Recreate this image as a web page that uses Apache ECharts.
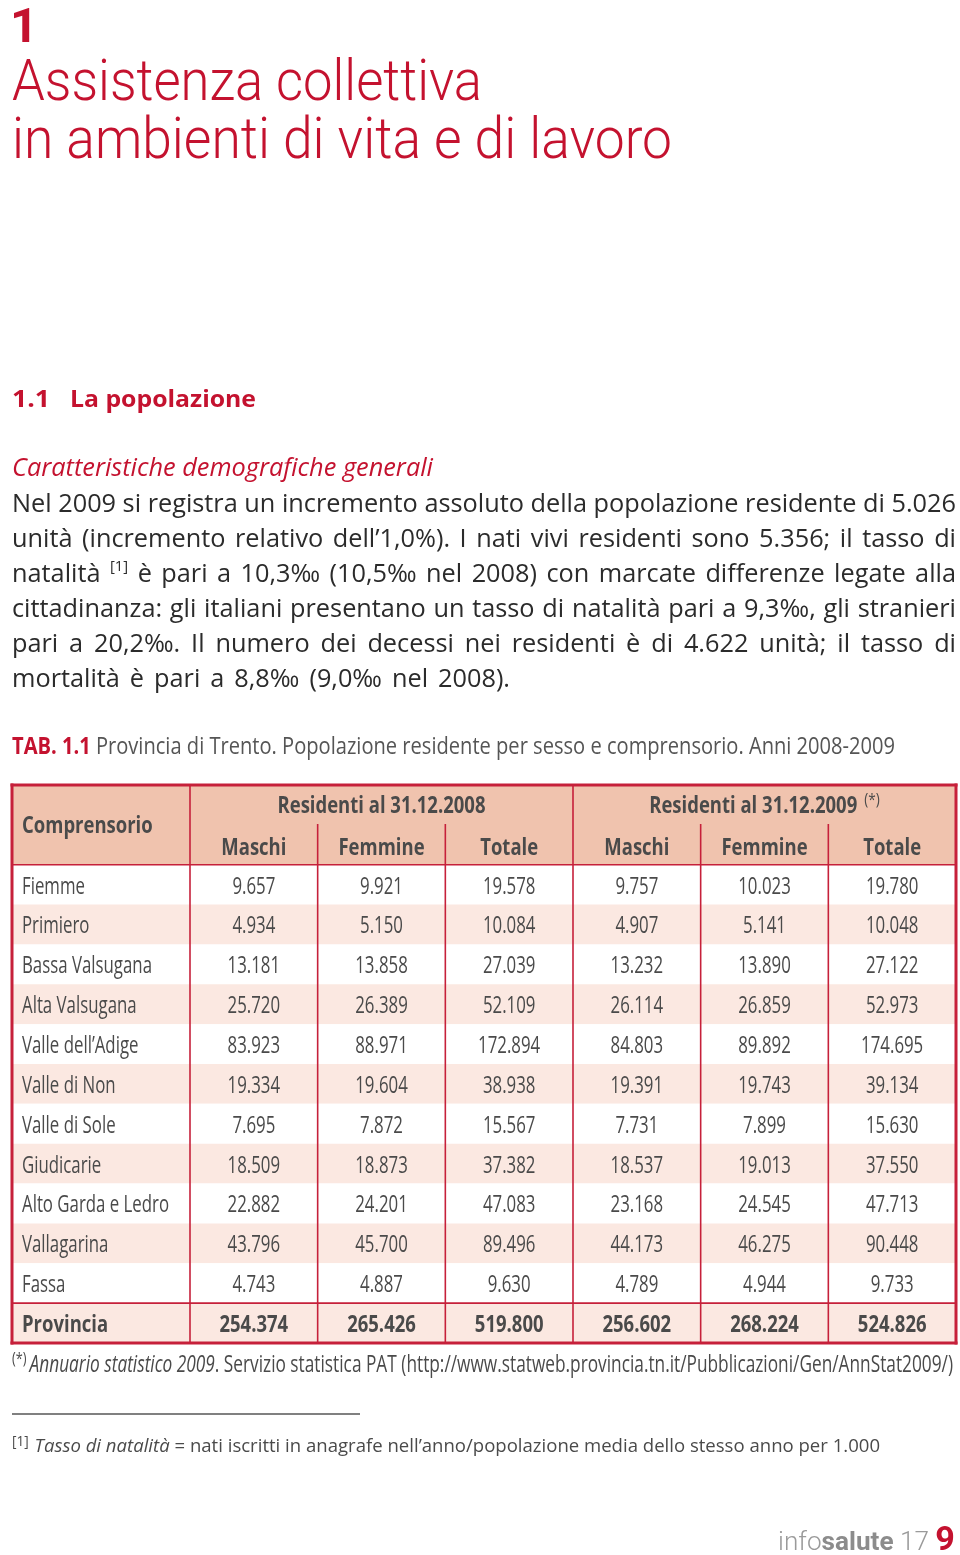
<!DOCTYPE html>
<html><head><meta charset="utf-8">
<script src="https://cdn.jsdelivr.net/npm/echarts@6/dist/echarts.min.js"></script>
<style>html,body{margin:0;padding:0;background:#fff}#c{width:960px;height:1555px}</style>
</head><body><div id="c"></div>
<script>
// ---------------- DATA ----------------
const comprensori = ['Fiemme','Primiero','Bassa Valsugana','Alta Valsugana','Valle dell\u2019Adige','Valle di Non','Valle di Sole','Giudicarie','Alto Garda e Ledro','Vallagarina','Fassa','Provincia'];
const maschi2008  = [9657, 4934, 13181, 25720, 83923, 19334, 7695, 18509, 22882, 43796, 4743, 254374];
const femmine2008 = [9921, 5150, 13858, 26389, 88971, 19604, 7872, 18873, 24201, 45700, 4887, 265426];
const totale2008  = [19578, 10084, 27039, 52109, 172894, 38938, 15567, 37382, 47083, 89496, 9630, 519800];
const maschi2009  = [9757, 4907, 13232, 26114, 84803, 19391, 7731, 18537, 23168, 44173, 4789, 256602];
const femmine2009 = [10023, 5141, 13890, 26859, 89892, 19743, 7899, 19013, 24545, 46275, 4944, 268224];
const totale2009  = [19780, 10048, 27122, 52973, 174695, 39134, 15630, 37550, 47713, 90448, 9733, 524826];
const firstHeader = 'Comprensorio';
const groupLabels = ['Residenti al 31.12.2008', 'Residenti al 31.12.2009'];
const groupSup = ['', '(*)'];
const subLabels = ['Maschi', 'Femmine', 'Totale'];

const bodyLines = [
  'Nel 2009 si registra un incremento assoluto della popolazione residente di 5.026',
  'unit\u00e0 (incremento relativo dell\u20191,0%). I nati vivi residenti sono 5.356; il tasso di',
  'natalit\u00e0 [1] \u00e8 pari a 10,3\u2030 (10,5\u2030 nel 2008) con marcate differenze legate alla',
  'cittadinanza: gli italiani presentano un tasso di natalit\u00e0 pari a 9,3\u2030, gli stranieri',
  'pari a 20,2\u2030. Il numero dei decessi nei residenti \u00e8 di 4.622 unit\u00e0; il tasso di',
  'mortalit\u00e0 \u00e8 pari a 8,8\u2030 (9,0\u2030 nel 2008).'
];

// ---------------- HELPERS ----------------
const RED = '#c4122f';
const BODY = '#2b2b2b';
const GRAY = '#4a4a4a';
const ctx = document.createElement('canvas').getContext('2d');
function tw(t, f) { ctx.font = f; return ctx.measureText(t).width; }
function F(size, weight, style, fam) { return (style || 'normal') + ' ' + (weight || 400) + ' ' + size + 'px ' + (fam || '"Open Sans"'); }
const fmt = n => String(n).replace(/\B(?=(\d{3})+(?!\d))/g, '.');

const els = [];
function txt(t, x, y, f, fill, sx, align) {
  els.push({ type: 'text', x: x, y: y, scaleX: sx || 1, z: 10,
    style: { text: t, font: f, fill: fill, align: align || 'left', verticalAlign: 'middle' } });
}
function runs(list, x0, x1, y) {
  const total = list.reduce((a, r) => a + tw(r.t, r.f) + (r.gap || 0), 0);
  const sx = x1 ? (x1 - x0) / total : 1;
  let x = x0;
  list.forEach(r => { txt(r.t, x, y + (r.dy || 0), r.f, r.fill, sx); x += (tw(r.t, r.f) + (r.gap || 0)) * sx; });
}
function fit(t, f, fill, x0, x1, y) { txt(t, x0, y, f, fill, (x1 - x0) / tw(t, f)); }

// ---------------- PAGE TEXT ----------------
txt('1', 10, 30, F(49, 700, 'normal', 'Roboto'), RED);
fit('Assistenza collettiva', F(57, 300, 'normal', 'Roboto'), RED, 12, 482, 86);
fit('in ambienti di vita e di lavoro', F(57, 300, 'normal', 'Roboto'), RED, 12, 672, 144);

fit('1.1', F(24, 700), RED, 12, 50, 400);
fit('La popolazione', F(24, 700), RED, 70, 256, 400);
fit('Caratteristiche demografiche generali', F(26, 400, 'italic'), RED, 12, 433, 469);

// justified body
const fB = F(25.5), fSup = F(15);
const tokW = t => (t === '[1]' ? tw(t, fSup) : tw(t, fB));
const lineNat = line => { const tk = line.split(' '); return tk.reduce((a, t) => a + tokW(t), 0) + (tk.length - 1) * tw(' ', fB); };
let sxB = Infinity;
bodyLines.slice(0, -1).forEach(l => { sxB = Math.min(sxB, 944 / lineNat(l)); });
bodyLines.forEach((line, li) => {
  const y = 505 + li * 35;
  const last = li === bodyLines.length - 1;
  const tokens = line.split(' ');
  const widths = tokens.map(t => tokW(t) * sxB);
  const sum = widths.reduce((a, b) => a + b, 0);
  const right = last ? 510 : 956;
  const gap = (right - 12 - sum) / (tokens.length - 1);
  let x = 12;
  tokens.forEach((t, i) => {
    if (t === '[1]') txt(t, x, y - 8, fSup, BODY, sxB); else txt(t, x, y, fB, BODY, sxB);
    x += widths[i] + gap;
  });
});

runs([
  { t: 'TAB. 1.1', f: F(24, 700), fill: RED },
  { t: ' Provincia di Trento. Popolazione residente per sesso e comprensorio. Anni 2008-2009', f: F(24), fill: '#555' }
], 12, 895, 747);

runs([
  { t: '(*)', f: F(17), fill: GRAY, dy: -6, gap: 4 },
  { t: 'Annuario statistico 2009', f: F(23, 400, 'italic'), fill: GRAY },
  { t: '. Servizio statistica PAT (http://www.statweb.provincia.tn.it/Pubblicazioni/Gen/AnnStat2009/)', f: F(23), fill: GRAY }
], 12, 953, 1365);

els.push({ type: 'line', shape: { x1: 12, y1: 1414, x2: 360, y2: 1414 }, style: { stroke: '#808080', lineWidth: 2 } });

runs([
  { t: '[1]', f: F(14), fill: GRAY, dy: -5, gap: 6 },
  { t: 'Tasso di natalit\u00e0', f: F(19, 400, 'italic'), fill: GRAY },
  { t: ' = nati iscritti in anagrafe nell\u2019anno/popolazione media dello stesso anno per 1.000', f: F(19), fill: GRAY }
], 12, 880, 1447);

runs([
  { t: 'info', f: F(26, 300, 'normal', 'Roboto'), fill: '#9a9a9a' },
  { t: 'salute', f: F(26, 700, 'normal', 'Roboto'), fill: '#8c8c8c' },
  { t: ' 17 ', f: F(26, 300, 'normal', 'Roboto'), fill: '#9a9a9a' },
  { t: '9', f: F(34, 700, 'normal', 'Roboto'), fill: RED, dy: -2 }
], 778, 955, 1543);

// ---------------- TABLE ----------------
const FIRST = 178 / 127.667, XMAX = FIRST + 6, NROW = comprensori.length + 2, PAD = 10 / 127.667;
const TB_REG = F(23), TB_BOLD = F(23, 700), SUPF = F(17);
const SX_REG = 130 / tw('Bassa Valsugana', TB_REG);
const SX_BOLD = 208 / tw(groupLabels[0], TB_BOLD);
const HEAD_BG = '#f0c3ae', STRIPE = '#fbe8e1', BORDER = '#c6203a', TTXT = '#4a4a4a';

// backgrounds
const bands = [{ y0: 0, y1: 2, fill: HEAD_BG }];
comprensori.forEach((c, r) => bands.push({ y0: r + 2, y1: r + 3, fill: r % 2 ? STRIPE : '#ffffff' }));

// texts
const cols = [maschi2008, femmine2008, totale2008, maschi2009, femmine2009, totale2009];
const cells = [];
cells.push({ x: PAD, y: 1.03, text: firstHeader, bold: true, align: 'left' });
groupLabels.forEach((g, i) => cells.push({ x: FIRST + i * 3 + 1.5, y: 0.53, text: g, sup: groupSup[i], bold: true, align: 'center' }));
for (let i = 0; i < 6; i++) cells.push({ x: FIRST + i + 0.5, y: 1.59, text: subLabels[i % 3], bold: true, align: 'center' });
comprensori.forEach((name, r) => {
  const bold = r === comprensori.length - 1;
  cells.push({ x: PAD, y: r + 2.56, text: name, bold: bold, align: 'left' });
  cols.forEach((arr, c) => cells.push({ x: FIRST + c + 0.5, y: r + 2.56, text: fmt(arr[r]), bold: bold, align: 'center' }));
});

// lines
const segs = [
  [0, 0, XMAX, 0, 3], [XMAX, 0, XMAX, NROW, 3], [XMAX, NROW, 0, NROW, 3], [0, NROW, 0, 0, 3],
  [0, 2, XMAX, 2, 1.6], [0, NROW - 1, XMAX, NROW - 1, 1.6],
  [FIRST, 0, FIRST, NROW, 1.6], [FIRST + 3, 0, FIRST + 3, NROW, 1.6]
];
[1, 2, 4, 5].forEach(i => segs.push([FIRST + i, 1, FIRST + i, NROW, 1.6]));

const chart = echarts.init(document.getElementById('c'), null, { renderer: 'canvas' });
chart.setOption({
  animation: false,
  backgroundColor: '#fff',
  grid: { left: 12, top: 785, width: 944, height: 558 },
  xAxis: { type: 'value', min: 0, max: XMAX, show: false },
  yAxis: { type: 'value', min: 0, max: NROW, inverse: true, show: false },
  graphic: { elements: els },
  series: [
    {
      type: 'custom', clip: false, silent: true, z: 1,
      data: bands.map(b => [0, b.y0, XMAX, b.y1]),
      renderItem: (params, api) => {
        const p0 = api.coord([api.value(0), api.value(1)]);
        const p1 = api.coord([api.value(2), api.value(3)]);
        return { type: 'rect', shape: { x: p0[0], y: p0[1], width: p1[0] - p0[0], height: p1[1] - p0[1] },
          style: { fill: bands[params.dataIndex].fill } };
      }
    },
    {
      type: 'custom', clip: false, silent: true, z: 3,
      data: cells.map(c => [c.x, c.y]),
      renderItem: (params, api) => {
        const c = cells[params.dataIndex];
        const p = api.coord([api.value(0), api.value(1)]);
        const f = c.bold ? TB_BOLD : TB_REG;
        const sx = c.bold ? SX_BOLD : SX_REG;
        const main = { type: 'text', x: p[0], y: p[1], scaleX: sx,
          style: { text: c.text, font: f, fill: TTXT, align: c.align, verticalAlign: 'middle' } };
        const children = [main];
        if (c.sup) {
          const wm = tw(c.text, f) * sx, ws = tw(c.sup, SUPF) * sx, g = 7;
          const start = p[0] - (wm + g + ws) / 2;
          main.x = start; main.style.align = 'left';
          children.push({ type: 'text', x: start + wm + g, y: p[1] - 6, scaleX: sx,
            style: { text: c.sup, font: SUPF, fill: TTXT, align: 'left', verticalAlign: 'middle' } });
        }
        return { type: 'group', children: children };
      }
    },
    {
      type: 'custom', clip: false, silent: true, z: 5,
      data: segs.map(s => [s[0], s[1], s[2], s[3]]),
      renderItem: (params, api) => {
        const p0 = api.coord([api.value(0), api.value(1)]);
        const p1 = api.coord([api.value(2), api.value(3)]);
        return { type: 'line', shape: { x1: p0[0], y1: p0[1], x2: p1[0], y2: p1[1] },
          style: { stroke: BORDER, lineWidth: segs[params.dataIndex][4], lineCap: 'square' } };
      }
    }
  ]
});
</script></body></html>
